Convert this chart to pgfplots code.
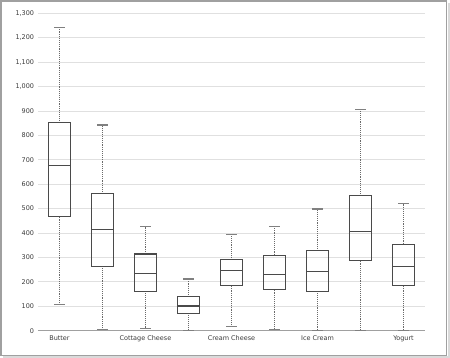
\documentclass[border=0pt]{standalone}
\usepackage{fontspec}
\setmainfont{DejaVu Sans}
\usepackage{pgfplots}
\pgfplotsset{compat=1.18}
\usepgfplotslibrary{statistics}
\definecolor{gridc}{HTML}{E0E0E0}
\definecolor{boxc}{HTML}{4A4A4A}
\definecolor{whisk}{HTML}{6A6A6A}
\definecolor{capc}{HTML}{808080}
\definecolor{framec}{HTML}{A0A0A0}
\definecolor{shadc}{HTML}{DADADA}
\definecolor{labc}{HTML}{3A3A3A}
\begin{document}
\begin{tikzpicture}
\begin{axis}[
  scale only axis, width=387bp, height=317.4bp,
  xmin=0.5, xmax=9.5, ymin=0, ymax=1300,
  clip=false,
  axis line style={draw=none},
  major tick length=0pt,
  ytick={0,100,...,1300},
  xtick={1,3,5,7,9},
  xticklabels={Butter,Cottage Cheese,Cream Cheese,Ice Cream,Yogurt},
  ymajorgrids, grid style={gridc, line width=0.8bp},
  /pgf/number format/assume math mode=true,
  /pgf/number format/1000 sep={,},
  scaled y ticks=false,
  ticklabel style={font=\fontsize{6.5}{7.5}\selectfont, text=labc},
  yticklabel style={anchor=east, inner sep=0pt, xshift=-3.7bp},
  xticklabel style={anchor=north, inner sep=0pt, yshift=-5bp},
  boxplot/draw direction=y,
  boxplot/box extend=0.5,
  boxplot/whisker extend=0,
  boxplot/every whisker/.style={whisk, densely dotted, line width=0.9bp},
  boxplot/every box/.style={boxc, line width=1.1bp},
  boxplot/every median/.style={boxc, line width=1.1bp},
]
\addplot[boxc, boxplot prepared={draw position=1, lower whisker=108, lower quartile=467, median=675, upper quartile=853, upper whisker=1243}] coordinates {};
\addplot[boxc, boxplot prepared={draw position=2, lower whisker=6, lower quartile=264, median=415, upper quartile=561, upper whisker=843}] coordinates {};
\addplot[boxc, boxplot prepared={draw position=3, lower whisker=10, lower quartile=161, median=235, upper quartile=314, upper whisker=426}] coordinates {};
\addplot[boxc, boxplot prepared={draw position=4, lower whisker=1, lower quartile=71, median=101, upper quartile=139, upper whisker=212}] coordinates {};
\addplot[boxc, boxplot prepared={draw position=5, lower whisker=18, lower quartile=184, median=247, upper quartile=291, upper whisker=395}] coordinates {};
\addplot[boxc, boxplot prepared={draw position=6, lower whisker=6, lower quartile=168, median=231, upper quartile=309, upper whisker=427}] coordinates {};
\addplot[boxc, boxplot prepared={draw position=7, lower whisker=2, lower quartile=161, median=243, upper quartile=327, upper whisker=499}] coordinates {};
\addplot[boxc, boxplot prepared={draw position=8, lower whisker=2, lower quartile=287, median=405, upper quartile=554, upper whisker=906}] coordinates {};
\addplot[boxc, boxplot prepared={draw position=9, lower whisker=2, lower quartile=184, median=264, upper quartile=354, upper whisker=520}] coordinates {};
\addplot[only marks, mark=-, mark size=5.35bp, capc, mark options={line width=1.3bp}] coordinates {
(1,108) (1,1243) (2,6) (2,843) (3,10) (3,426) (4,1) (4,212) (5,18) (5,395)
(6,6) (6,427) (7,2) (7,499) (8,2) (8,906) (9,2) (9,520)};
\draw[framec, line width=1bp] (rel axis cs:0,0) -- (rel axis cs:1,0);
\draw[shadc, line width=2.5bp] (rel axis cs:1.0614,1.032) -- (rel axis cs:1.0614,-0.0848) -- (rel axis cs:-0.090,-0.0848);
\draw[framec, line width=1.6bp] (rel axis cs:-0.0956,-0.0781) rectangle (rel axis cs:1.0556,1.0385);
\coordinate (BL) at (rel axis cs:-0.09819,-0.08601);
\coordinate (TR) at (rel axis cs:1.0646,1.04191);
\end{axis}
\pgfresetboundingbox
\path[use as bounding box] (BL) rectangle (TR);
\end{tikzpicture}
\end{document}
